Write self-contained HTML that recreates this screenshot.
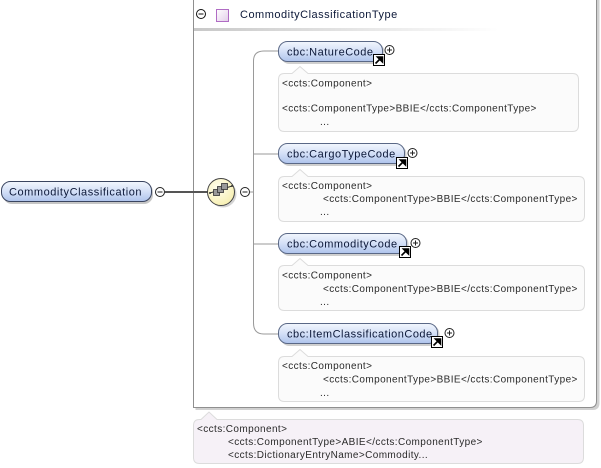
<!DOCTYPE html>
<html>
<head>
<meta charset="utf-8">
<style>
  html, body { margin:0; padding:0; background:#ffffff; }
  svg { display:block; }
  .nt { font-family:"Liberation Sans", Arial, sans-serif; font-size:11px; letter-spacing:0.5px; fill:#0c1838; }
  .at { font-family:"Liberation Sans", Arial, sans-serif; font-size:10px; letter-spacing:0.4px; fill:#2a2a2a; }
</style>
</head>
<body>
<svg width="601" height="468" viewBox="0 0 601 468" xmlns="http://www.w3.org/2000/svg">
  <defs>
    <linearGradient id="ng" x1="0" y1="0" x2="0" y2="1">
      <stop offset="0" stop-color="#f2f6fd"/>
      <stop offset="0.5" stop-color="#d4e0f7"/>
      <stop offset="1" stop-color="#aec3ec"/>
    </linearGradient>
    <linearGradient id="sep" x1="0" y1="0" x2="1" y2="0">
      <stop offset="0" stop-color="#c8c8c8"/>
      <stop offset="1" stop-color="#ffffff"/>
    </linearGradient>
    <linearGradient id="pq" x1="0" y1="0" x2="1" y2="1">
      <stop offset="0" stop-color="#ffffff"/>
      <stop offset="1" stop-color="#e2cde8"/>
    </linearGradient>
    <radialGradient id="yc" cx="0.4" cy="0.35" r="0.7">
      <stop offset="0" stop-color="#fffff0"/>
      <stop offset="1" stop-color="#f7efb0"/>
    </radialGradient>
  </defs>

  <!-- outer type box -->
  <path d="M195.5,-1 L599.5,-1 L599.5,403 Q599.5,410 592.5,410 L195.5,410 Z" fill="#d0d0d0"/>
  <path d="M193.5,-1 L596.5,-1 L596.5,401 Q596.5,407.5 590,407.5 L193.5,407.5 Z" fill="#ffffff" stroke="#8f8f8f" stroke-width="1"/>

  <!-- header -->
  <circle cx="201" cy="14" r="4.5" fill="#fff" stroke="#111" stroke-width="1"/>
  <line x1="198.5" y1="14" x2="203.5" y2="14" stroke="#111" stroke-width="1"/>
  <rect x="216.5" y="9.5" width="12" height="12" fill="url(#pq)" stroke="#b06cc4" stroke-width="1"/>
  <text class="nt" x="240" y="18">CommodityClassificationType</text>
  <rect x="194" y="28" width="305" height="3" fill="url(#sep)"/>

  <!-- left element -->
  <rect x="3" y="183" width="150" height="21" rx="9" fill="#a0a0a0" opacity="0.6"/>
  <rect x="1.5" y="181.5" width="150" height="20" rx="9" fill="url(#ng)" stroke="#3a4560" stroke-width="1"/>
  <text class="nt" x="9" y="195.5" style="letter-spacing:0.55px">CommodityClassification</text>
  <circle cx="160" cy="192" r="4.5" fill="#fff" stroke="#222" stroke-width="1"/>
  <line x1="157.5" y1="192" x2="162.5" y2="192" stroke="#222" stroke-width="1"/>
  <line x1="165" y1="192" x2="208" y2="192" stroke="#555" stroke-width="2"/>

  <!-- sequence compositor -->
  <ellipse cx="223" cy="194" rx="13.5" ry="13.5" fill="#aaa" opacity="0.5"/>
  <ellipse cx="221" cy="192" rx="13.5" ry="13.5" fill="url(#yc)" stroke="#444" stroke-width="1"/>
  <line x1="210" y1="193" x2="232" y2="186" stroke="#333" stroke-width="1"/>
  <rect x="213.5" y="189.5" width="6" height="6" fill="#999" stroke="#333" stroke-width="0.8"/>
  <rect x="217.5" y="186.5" width="6" height="6" fill="#999" stroke="#333" stroke-width="0.8"/>
  <rect x="221.5" y="183.5" width="6" height="6" fill="#999" stroke="#333" stroke-width="0.8"/>
  <circle cx="210" cy="193" r="1" fill="#333"/>
  <circle cx="232" cy="186" r="1" fill="#333"/>
  <circle cx="245" cy="192" r="4.5" fill="#fff" stroke="#222" stroke-width="1"/>
  <line x1="242.5" y1="192" x2="247.5" y2="192" stroke="#222" stroke-width="1"/>
  <line x1="250" y1="192" x2="253.5" y2="192" stroke="#999" stroke-width="1"/>

  <!-- tree connector -->
  <path d="M279,51 L264,51 Q253.5,51 253.5,61 L253.5,323 Q253.5,334 264,334 L279,334" fill="none" stroke="#9a9a9a" stroke-width="1"/>
  <line x1="253.5" y1="154" x2="279" y2="154" stroke="#9a9a9a" stroke-width="1"/>
  <line x1="253.5" y1="244" x2="279" y2="244" stroke="#9a9a9a" stroke-width="1"/>

  <!-- NatureCode -->
  <rect x="280.5" y="43" width="104" height="21" rx="9" fill="#a0a0a0" opacity="0.5"/>
  <rect x="278.5" y="41.5" width="104" height="20" rx="9" fill="url(#ng)" stroke="#5a6886" stroke-width="1"/>
  <text class="nt" x="287" y="55.5">cbc:NatureCode</text>
  <rect x="373.5" y="54.5" width="11" height="11" fill="#fff" stroke="#000" stroke-width="1"/>
  <path d="M375.5,63.5 L381,58 M377.5,57 L382.5,57 L382.5,62 Z" fill="#000" stroke="#000" stroke-width="1.6"/>
  <circle cx="389.5" cy="50" r="4.5" fill="#fff" stroke="#222" stroke-width="1"/>
  <path d="M387,50 L392,50 M389.5,47.5 L389.5,52.5" stroke="#222" stroke-width="1"/>

  <path d="M284.5,73.5 L292,73.5 L300,66.5 L308,73.5 L572.5,73.5 Q578.5,73.5 578.5,79.5 L578.5,125.5 Q578.5,131.5 572.5,131.5 L284.5,131.5 Q278.5,131.5 278.5,125.5 L278.5,79.5 Q278.5,73.5 284.5,73.5 Z" fill="#fbfbfb" stroke="#dcdcdc" stroke-width="1"/>
  <text class="at" x="282" y="86.5">&lt;ccts:Component&gt;</text>
  <text class="at" x="282" y="111.5">&lt;ccts:ComponentType&gt;BBIE&lt;/ccts:ComponentType&gt;</text>
  <text class="at" x="320" y="125">...</text>

  <!-- CargoTypeCode -->
  <rect x="280.5" y="145" width="126" height="21" rx="9" fill="#a0a0a0" opacity="0.5"/>
  <rect x="278.5" y="143.5" width="126" height="20" rx="9" fill="url(#ng)" stroke="#5a6886" stroke-width="1"/>
  <text class="nt" x="287" y="157.5">cbc:CargoTypeCode</text>
  <rect x="396.5" y="157.5" width="11" height="11" fill="#fff" stroke="#000" stroke-width="1"/>
  <path d="M398.5,166.5 L404,161 M400.5,160 L405.5,160 L405.5,165 Z" fill="#000" stroke="#000" stroke-width="1.6"/>
  <circle cx="412.5" cy="153" r="4.5" fill="#fff" stroke="#222" stroke-width="1"/>
  <path d="M410,153 L415,153 M412.5,150.5 L412.5,155.5" stroke="#222" stroke-width="1"/>

  <path d="M284.5,176.5 L292,176.5 L300,169.5 L308,176.5 L578.5,176.5 Q584.5,176.5 584.5,182.5 L584.5,215.5 Q584.5,221.5 578.5,221.5 L284.5,221.5 Q278.5,221.5 278.5,215.5 L278.5,182.5 Q278.5,176.5 284.5,176.5 Z" fill="#fbfbfb" stroke="#dcdcdc" stroke-width="1"/>
  <text class="at" x="282" y="189">&lt;ccts:Component&gt;</text>
  <text class="at" x="323" y="202">&lt;ccts:ComponentType&gt;BBIE&lt;/ccts:ComponentType&gt;</text>
  <text class="at" x="320" y="215">...</text>

  <!-- CommodityCode -->
  <rect x="280.5" y="235" width="128" height="21" rx="9" fill="#a0a0a0" opacity="0.5"/>
  <rect x="278.5" y="233.5" width="128" height="20" rx="9" fill="url(#ng)" stroke="#5a6886" stroke-width="1"/>
  <text class="nt" x="287" y="247.5">cbc:CommodityCode</text>
  <rect x="399.5" y="246.5" width="11" height="11" fill="#fff" stroke="#000" stroke-width="1"/>
  <path d="M401.5,255.5 L407,250 M403.5,249 L408.5,249 L408.5,254 Z" fill="#000" stroke="#000" stroke-width="1.6"/>
  <circle cx="415.5" cy="243" r="4.5" fill="#fff" stroke="#222" stroke-width="1"/>
  <path d="M413,243 L418,243 M415.5,240.5 L415.5,245.5" stroke="#222" stroke-width="1"/>

  <path d="M284.5,265.5 L292,265.5 L300,258.5 L308,265.5 L578.5,265.5 Q584.5,265.5 584.5,271.5 L584.5,304.5 Q584.5,310.5 578.5,310.5 L284.5,310.5 Q278.5,310.5 278.5,304.5 L278.5,271.5 Q278.5,265.5 284.5,265.5 Z" fill="#fbfbfb" stroke="#dcdcdc" stroke-width="1"/>
  <text class="at" x="282" y="278.5">&lt;ccts:Component&gt;</text>
  <text class="at" x="323" y="292">&lt;ccts:ComponentType&gt;BBIE&lt;/ccts:ComponentType&gt;</text>
  <text class="at" x="320" y="305">...</text>

  <!-- ItemClassificationCode -->
  <rect x="280.5" y="325" width="159" height="21" rx="9" fill="#a0a0a0" opacity="0.5"/>
  <rect x="278.5" y="323.5" width="159" height="20" rx="9" fill="url(#ng)" stroke="#5a6886" stroke-width="1"/>
  <text class="nt" x="287" y="337.5">cbc:ItemClassificationCode</text>
  <rect x="431.5" y="336.5" width="11" height="11" fill="#fff" stroke="#000" stroke-width="1"/>
  <path d="M433.5,345.5 L439,340 M435.5,339 L440.5,339 L440.5,344 Z" fill="#000" stroke="#000" stroke-width="1.6"/>
  <circle cx="449.5" cy="333" r="4.5" fill="#fff" stroke="#222" stroke-width="1"/>
  <path d="M447,333 L452,333 M449.5,330.5 L449.5,335.5" stroke="#222" stroke-width="1"/>

  <path d="M284.5,356.5 L292,356.5 L300,349.5 L308,356.5 L578.5,356.5 Q584.5,356.5 584.5,362.5 L584.5,395.5 Q584.5,401.5 578.5,401.5 L284.5,401.5 Q278.5,401.5 278.5,395.5 L278.5,362.5 Q278.5,356.5 284.5,356.5 Z" fill="#fbfbfb" stroke="#dcdcdc" stroke-width="1"/>
  <text class="at" x="282" y="369">&lt;ccts:Component&gt;</text>
  <text class="at" x="323" y="382.5">&lt;ccts:ComponentType&gt;BBIE&lt;/ccts:ComponentType&gt;</text>
  <text class="at" x="320" y="396">...</text>

  <!-- bottom annotation -->
  <path d="M199.5,419.5 L201,419.5 L209,412 L217,419.5 L577.5,419.5 Q583.5,419.5 583.5,425.5 L583.5,457.5 Q583.5,463.5 577.5,463.5 L199.5,463.5 Q193.5,463.5 193.5,457.5 L193.5,425.5 Q193.5,419.5 199.5,419.5 Z" fill="#f6f1f7" stroke="#dcdcdc" stroke-width="1"/>
  <text class="at" x="197" y="432">&lt;ccts:Component&gt;</text>
  <text class="at" x="228" y="445">&lt;ccts:ComponentType&gt;ABIE&lt;/ccts:ComponentType&gt;</text>
  <text class="at" x="228" y="458">&lt;ccts:DictionaryEntryName&gt;Commodity...</text>
</svg>
</body>
</html>
